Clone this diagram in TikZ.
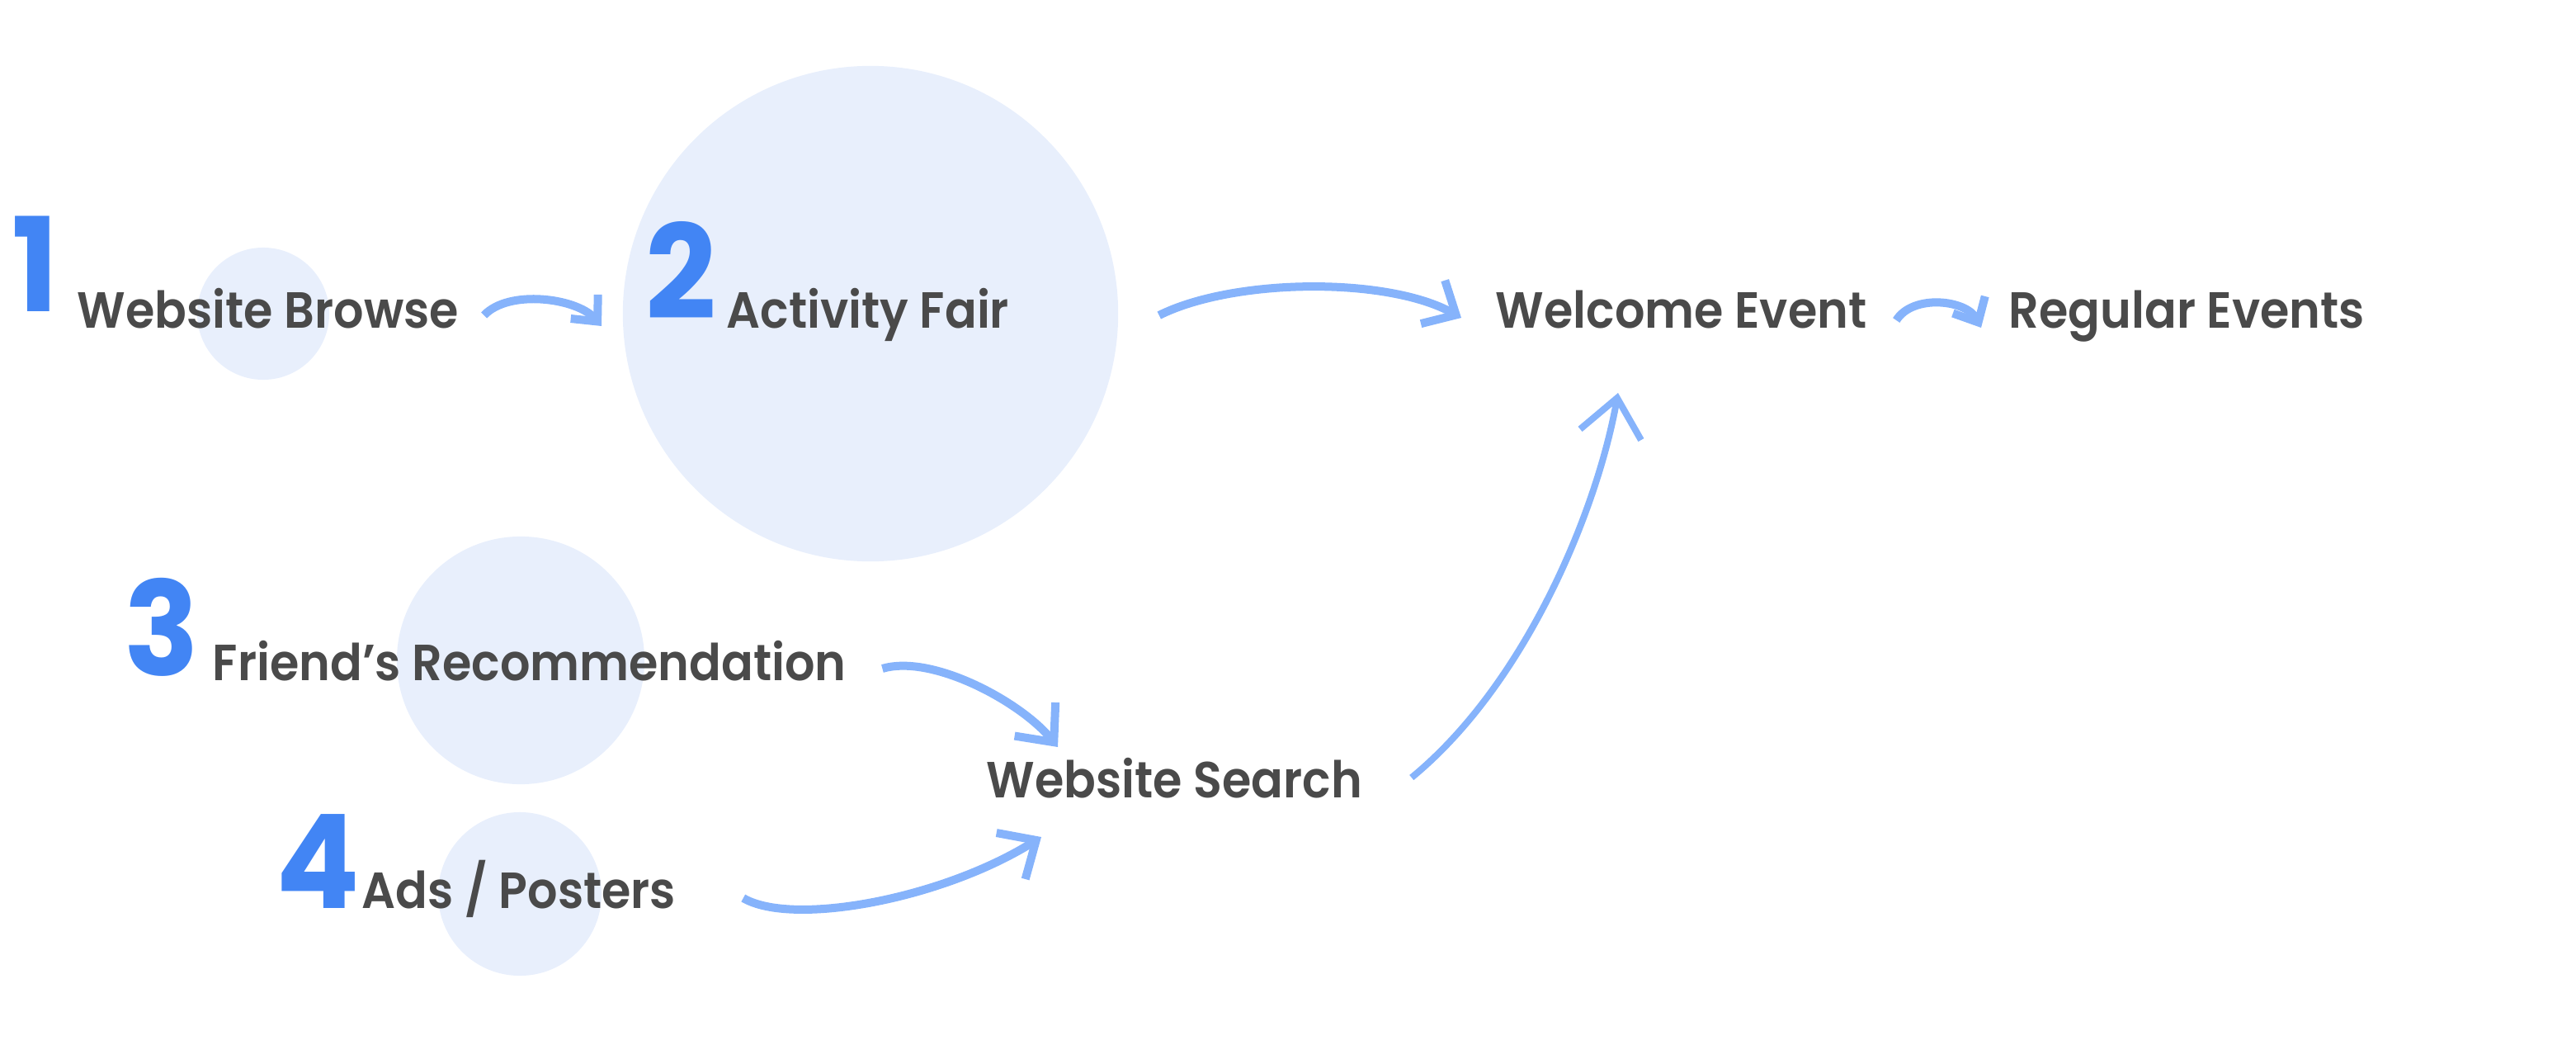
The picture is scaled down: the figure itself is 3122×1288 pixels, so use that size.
\documentclass[tikz,border=0pt]{standalone}
\usepackage{fontspec}
\usetikzlibrary{arrows.meta}
\newfontfamily\stagefont{Poppins SemiBold}[FakeStretch=0.93]
\newfontfamily\numfont{Poppins Bold}[FakeStretch=0.95]
\definecolor{textgray}{HTML}{4A4A4A}
\definecolor{numblue}{HTML}{4285F4}
\definecolor{flowblue}{HTML}{86B3FB}
\definecolor{bubblefill}{HTML}{E8EFFC}
\tikzset{
  bubble/.style={circle, fill=bubblefill, inner sep=0pt},
  stagetext/.style={font=\stagefont\fontsize{17.5}{21}\selectfont, text=textgray, inner sep=0pt, anchor=base west},
  stagenum/.style={font=\numfont\fontsize{45}{50}\selectfont, text=numblue, inner sep=0pt, anchor=base west},
  flow/.style={draw=flowblue, line width=0.1cm, -{Straight Barb[length=0.32cm, width=0.6cm]}},
  smallflow/.style={flow, -{Straight Barb[length=0.24cm, width=0.44cm]}}
}
\begin{document}
\begin{tikzpicture}[x=0.01cm, y=-0.01cm]
\useasboundingbox (0,0) rectangle (3122,1288);
\node[bubble, minimum size=1.6cm] (c1) at (319,380) {};
\node[bubble, minimum size=6cm] (c2) at (1055,380) {};
\node[bubble, minimum size=3cm] (c3) at (631,800) {};
\node[bubble, minimum size=1.98cm] (c4) at (630,1083) {};
\node[stagenum] (n1) at (14,377) {1};
\node[stagetext] (wb) at (93,397) {Website Browse};
\node[stagenum] (n2) at (782,386) {2};
\node[stagetext] (af) at (880,397) {Activity Fair};
\node[stagetext] (we) at (1812,397) {Welcome Event};
\node[stagetext] (re) at (2434,397) {Regular Events};
\node[stagenum] (n3) at (150,818) {3};
\node[stagetext] (fr) at (257,824) {Friend’s Recommendation};
\node[stagetext] (ws) at (1195,966) {Website Search};
\node[stagenum] (n4) at (334,1100) {4};
\node[stagetext] (ad) at (438,1100) {Ads / Posters};
\draw[smallflow] ([shift={(30,-15)}]wb.base east) .. controls +(30,-32) and +(-30,-34) .. ([shift={(-53,9)}]n2.base west);
\draw[flow] ([shift={(181,-15)}]af.base east) .. controls +(90,-45) and +(-90,-50) .. ([shift={(-41,-12)}]we.base west);
\draw[smallflow] ([shift={(35,-9)}]we.base east) .. controls +(20,-32) and +(-18,-34) .. ([shift={(-33,0)}]re.base west);
\draw[flow, -{Straight Barb[length=0.36cm, width=0.64cm]}] ([shift={(43,-14)}]fr.base east) .. controls +(60,-18) and +(-45,-55) .. ([shift={(87,-61)}]ws.base west);
\draw[flow, -{Straight Barb[length=0.36cm, width=0.66cm]}] ([shift={(81,-12)}]ad.base east) .. controls +(60,35) and +(-120,75) .. ([shift={(67,48)}]ws.base west);
\draw[flow, line width=0.08cm, -{Straight Barb[length=0.45cm, width=0.75cm]}] ([shift={(59,-24)}]ws.base east) .. controls +(140,-115) and +(-25,140) .. ([shift={(149,79)}]we.base west);
\end{tikzpicture}
\end{document}
